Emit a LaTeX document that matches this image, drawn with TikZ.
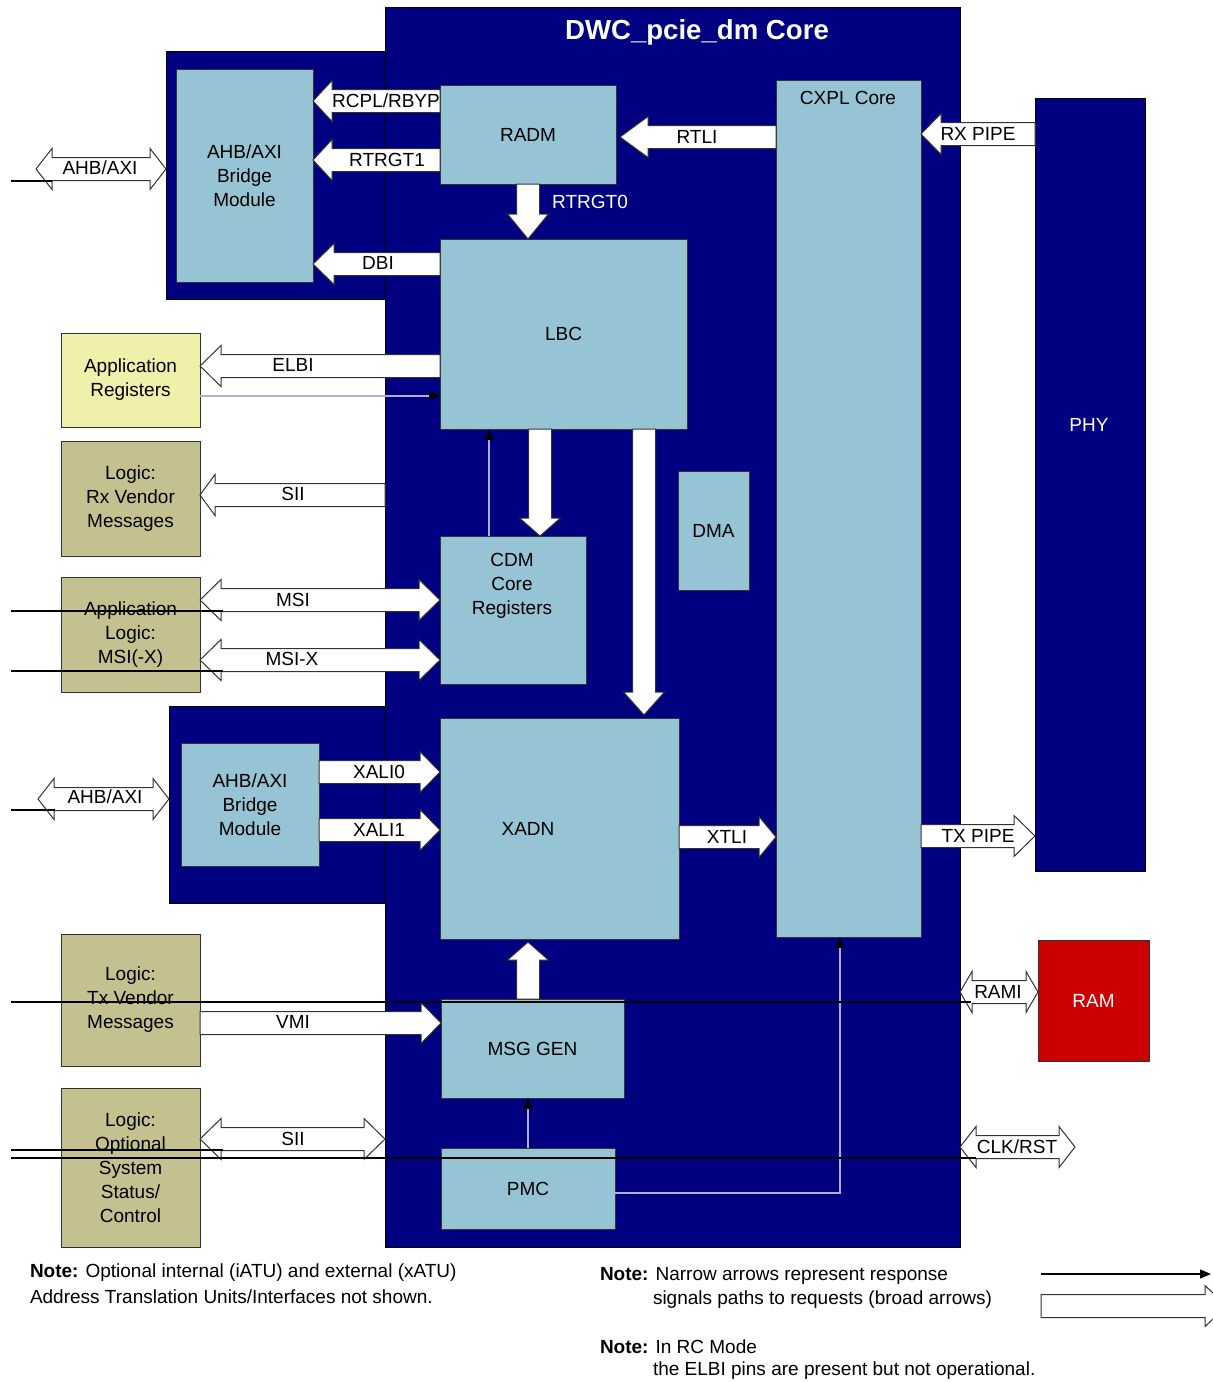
\documentclass[tikz,border=0pt]{standalone}
\usepackage{fontspec}
\setmainfont{Liberation Sans}
\usetikzlibrary{calc,arrows.meta}
\definecolor{navyc}{RGB}{0,0,128}
\definecolor{boxblue}{RGB}{150,196,212}
\definecolor{khakic}{RGB}{196,192,144}
\definecolor{paley}{RGB}{240,240,170}
\definecolor{ramred}{RGB}{204,0,0}
\definecolor{thinc}{RGB}{175,175,215}
% box node from pixel rectangle
\newcommand\bxnode[7]{\node[#1, minimum width={(#5-#3)*0.5pt}, minimum height={(#6-#4)*0.5pt}] (#2) at ({(#3+#5)/2},{(#4+#6)/2}) {#7};}
% broad arrows: [head length]{tail}{tip}
\newcommand\BArR[3][20]{\draw[broad] ($(#2)+(0,-11.5)$) -- ($(#3)+(-#1,-11.5)$) -- ($(#3)+(-#1,-20.5)$) -- (#3) -- ($(#3)+(-#1,20.5)$) -- ($(#3)+(-#1,11.5)$) -- ($(#2)+(0,11.5)$) -- cycle;}
\newcommand\BArL[3][20]{\draw[broad] ($(#2)+(0,-11.5)$) -- ($(#3)+(#1,-11.5)$) -- ($(#3)+(#1,-20.5)$) -- (#3) -- ($(#3)+(#1,20.5)$) -- ($(#3)+(#1,11.5)$) -- ($(#2)+(0,11.5)$) -- cycle;}
\newcommand\BArD[3][20]{\draw[broad] ($(#2)+(-11.5,0)$) -- ($(#3)+(-11.5,-#1)$) -- ($(#3)+(-20.5,-#1)$) -- (#3) -- ($(#3)+(20.5,-#1)$) -- ($(#3)+(11.5,-#1)$) -- ($(#2)+(11.5,0)$) -- cycle;}
\newcommand\BArU[3][20]{\draw[broad] ($(#2)+(-11.5,0)$) -- ($(#3)+(-11.5,#1)$) -- ($(#3)+(-20.5,#1)$) -- (#3) -- ($(#3)+(20.5,#1)$) -- ($(#3)+(11.5,#1)$) -- ($(#2)+(11.5,0)$) -- cycle;}
\newcommand\BArLR[3][20]{\draw[broad] ($(#2)+(#1,-11.5)$) -- ($(#3)+(-#1,-11.5)$) -- ($(#3)+(-#1,-20.5)$) -- (#3) -- ($(#3)+(-#1,20.5)$) -- ($(#3)+(-#1,11.5)$) -- ($(#2)+(#1,11.5)$) -- ($(#2)+(#1,20.5)$) -- (#2) -- ($(#2)+(#1,-20.5)$) -- cycle;}
\begin{document}
\begin{tikzpicture}[x=0.5pt,y=-0.5pt,
  every node/.style={font=\fontsize{9.5}{12}\selectfont, inner sep=0pt, outer sep=0pt, align=center},
  bg/.style={draw=black, line width=0.5pt, fill=navyc},
  box/.style={draw=black!80, line width=0.5pt, fill=boxblue},
  ext/.style={box, fill=khakic},
  broad/.style={draw=black!80, line width=0.5pt, fill=white, line join=miter},
  tipc/.tip={Triangle[length=5.5pt,width=4.5pt,color=black,fill=black]},
  thinarrow/.style={draw=thinc, line width=0.6pt, -tipc},
  stub/.style={draw=black, line width=0.8pt},
  wtext/.style={text=white}]
\useasboundingbox (0,0) rectangle (1213,1382);
% ---- backgrounds
\bxnode{bg}{bridgeAbg}{166}{51}{385}{299}{}
\bxnode{bg}{bridgeBbg}{169}{706}{385}{903}{}
\bxnode{bg}{core}{385}{7}{960}{1247}{}
\node[font=\fontsize{13.8}{16}\selectfont\bfseries, wtext] (title) at (697,32) {DWC\_pcie\_dm Core};
\bxnode{bg}{phy}{1035}{98}{1145}{871}{}
\node[wtext] (phyt) at (1089,425) {PHY};
% ---- blocks
\bxnode{box}{bridgeA}{176}{69}{313}{282}{AHB/AXI\\Bridge\\Module}
\bxnode{box}{bridgeB}{181}{743}{319}{866}{AHB/AXI\\Bridge\\Module}
\bxnode{box}{radm}{440}{85}{616}{184}{RADM}
\bxnode{box}{lbc}{440}{239}{687}{429}{LBC}
\bxnode{box}{cdm}{440}{536}{586}{684}{}
\node (cdmt) at (512,586) {CDM\\Core\\Registers};
\bxnode{box}{dma}{678}{471}{749}{590}{DMA}
\bxnode{box}{xadn}{440}{718}{679}{939}{}
\node (xadnt) at (528,829) {XADN};
\bxnode{box}{cxpl}{776}{80}{921}{937}{}
\node (cxplt) at (848,98) {CXPL Core};
\bxnode{box}{msggen}{441}{999}{624}{1098}{MSG GEN}
\bxnode{box}{pmc}{441}{1148}{615}{1229}{PMC}
\bxnode{box,fill=ramred,text=white}{ram}{1038}{940}{1149}{1061}{RAM}
\bxnode{box,fill=paley}{appreg}{61}{333}{200}{427}{Application\\Registers}
\bxnode{ext}{rxv}{61}{441}{200}{556}{Logic:\\Rx Vendor\\Messages}
\bxnode{ext}{msib}{61}{577}{200}{692}{Application\\Logic:\\MSI(-X)}
\bxnode{ext}{txv}{61}{934}{200}{1066}{Logic:\\Tx Vendor\\Messages}
\bxnode{ext}{optc}{61}{1088}{200}{1247}{Logic:\\Optional\\System\\Status/\\Control}
% ---- broad arrow end points
\coordinate (rcplS) at (radm.west |- 0,101);   \coordinate (rcplE) at (bridgeA.east |- 0,101);
\coordinate (rt1S) at (radm.west |- 0,160);    \coordinate (rt1E) at (bridgeA.east |- 0,160);
\coordinate (dbiS) at (lbc.west |- 0,264);     \coordinate (dbiE) at (bridgeA.east |- 0,264);
\coordinate (rtliS) at (cxpl.west |- 0,137);   \coordinate (rtliE) at ($(radm.east |- 0,137)+(4,0)$);
\coordinate (rt0S) at (radm.south -| 528,0);   \coordinate (rt0E) at (lbc.north -| 528,0);
\coordinate (elbiS) at (lbc.west |- 0,366);    \coordinate (elbiE) at (appreg.east |- 0,366);
\coordinate (siiaS) at (core.west |- 0,495);   \coordinate (siiaE) at (rxv.east |- 0,495);
\coordinate (msiL) at (msib.east |- 0,600);    \coordinate (msiR) at (cdm.west |- 0,600);
\coordinate (msixL) at (msib.east |- 0,660);   \coordinate (msixR) at (cdm.west |- 0,660);
\coordinate (x0S) at (bridgeB.east |- 0,772);  \coordinate (x0E) at (xadn.west |- 0,772);
\coordinate (x1S) at (bridgeB.east |- 0,830);  \coordinate (x1E) at (xadn.west |- 0,830);
\coordinate (xtS) at (xadn.east |- 0,837);     \coordinate (xtE) at (cxpl.west |- 0,837);
\coordinate (rxS) at (phy.west |- 0,134);      \coordinate (rxE) at (cxpl.east |- 0,134);
\coordinate (txS) at (cxpl.east |- 0,836);     \coordinate (txE) at (phy.west |- 0,836);
\coordinate (ramiL) at (core.east |- 0,992);   \coordinate (ramiR) at (ram.west |- 0,992);
\coordinate (clkL) at (core.east |- 0,1147);   \coordinate (clkR) at (1075,1147);
\coordinate (ahbaL) at (36,169);               \coordinate (ahbaR) at (bridgeAbg.west |- 0,169);
\coordinate (ahbbL) at (38,799);               \coordinate (ahbbR) at (bridgeBbg.west |- 0,799);
\coordinate (vmiS) at (txv.east |- 0,1023);    \coordinate (vmiE) at (msggen.west |- 0,1023);
\coordinate (siibL) at (optc.east |- 0,1139);  \coordinate (siibR) at (core.west |- 0,1139);
\coordinate (mgS) at (msggen.north -| 528,0);  \coordinate (mgE) at ($(xadn.south -| 528,0)+(0,3)$);
\coordinate (lcS) at (lbc.south -| 540,0);     \coordinate (lcE) at (cdm.north -| 540,0);
\coordinate (lxS) at (lbc.south -| 644,0);     \coordinate (lxE) at ($(xadn.north -| 644,0)+(0,-3)$);
% ---- broad arrows
\BArL[19]{rcplS}{rcplE}
\BArL[19]{rt1S}{rt1E}
\BArL[21]{dbiS}{dbiE}
\BArL[28]{rtliS}{rtliE}
\BArD[25]{rt0S}{rt0E}
\BArL[21]{elbiS}{elbiE}
\BArL[15]{siiaS}{siiaE}
\BArLR[21]{msiL}{msiR}
\BArLR[21]{msixL}{msixR}
\BArR[20]{x0S}{x0E}
\BArR[20]{x1S}{x1E}
\BArR[17]{xtS}{xtE}
\BArL[20]{rxS}{rxE}
\BArR[21]{txS}{txE}
\BArLR[12]{ramiL}{ramiR}
\BArLR[16]{clkL}{clkR}
\BArLR[16]{ahbaL}{ahbaR}
\BArLR[16]{ahbbL}{ahbbR}
\BArR[20]{vmiS}{vmiE}
\BArLR[21]{siibL}{siibR}
\BArU[18]{mgS}{mgE}
\BArD[18]{lcS}{lcE}
\BArD[23]{lxS}{lxE}
% ---- arrow labels
\node (lrcpl) at (386,101) {RCPL/RBYP};
\node (lrt1) at (387,160) {RTRGT1};
\node (ldbi) at (378,263) {DBI};
\node (lrtli) at (697,137) {RTLI};
\node[wtext] (lrt0) at (590,202) {RTRGT0};
\node (lelbi) at (293,365) {ELBI};
\node (lsiia) at (293,494) {SII};
\node (lmsi) at (293,600) {MSI};
\node (lmsix) at (292,659) {MSI-X};
\node (lx0) at (379,772) {XALI0};
\node (lx1) at (379,830) {XALI1};
\node (lxt) at (727,837) {XTLI};
\node (lrx) at (978,134) {RX PIPE};
\node (ltx) at (978,836) {TX PIPE};
\node (lrami) at (998,992) {RAMI};
\node (lclk) at (1017,1147) {CLK/RST};
\node (lahba) at (100,168) {AHB/AXI};
\node (lahbb) at (105,797) {AHB/AXI};
\node (lvmi) at (293,1022) {VMI};
\node (lsiib) at (293,1139) {SII};
% ---- narrow (response) arrows
\draw[thinarrow] (appreg.east |- 0,396) -- (lbc.west |- 0,396);
\draw[thinarrow] (cdm.north -| 489,0) -- (lbc.south -| 489,0);
\draw[thinarrow] (pmc.north -| 528,0) -- (msggen.south -| 528,0);
\draw[thinarrow] (pmc.east |- 0,1193) -| (cxpl.south -| 840,0);
% ---- stray black lines
\coordinate (sa) at (11,181);  \draw[stub] (sa) -- (52,181);
\coordinate (sb) at (11,611);  \draw[stub] (sb) -- (223,611);
\coordinate (sc) at (11,671);  \draw[stub] (sc) -- (223,671);
\coordinate (sd) at (11,810);  \draw[stub] (sd) -- (55,810);
\coordinate (se) at (11,1002); \draw[stub] (se) -- (971,1002);
\coordinate (sf) at (11,1150); \draw[stub] (sf) -- (223,1150);
\coordinate (sg) at (11,1158); \draw[stub] (sg) -- (976,1158);
% ---- notes
\node[anchor=west] (n1a) at (30,1273) {\textbf{Note:} Optional internal (iATU) and external (xATU)};
\node[anchor=west] (n1b) at (30,1297) {Address Translation Units/Interfaces not shown.};
\node[anchor=west] (n2a) at (600,1276) {\textbf{Note:} Narrow arrows represent response};
\node[anchor=west] (n2b) at (653,1300) {signals paths to requests (broad arrows)};
\node[anchor=west] (n3a) at (600,1347) {\textbf{Note:} In RC Mode};
\node[anchor=west] (n3b) at (653,1371) {the ELBI pins are present but not operational.};
% ---- legend
\coordinate (legNs) at (1041,1274); \coordinate (legNe) at (1211,1274);
\draw[line width=0.6pt, -tipc] (legNs) -- (legNe);
\coordinate (legBs) at (1041,1306); \coordinate (legBe) at (1227,1306);
\BArR[22]{legBs}{legBe}
\end{tikzpicture}
\end{document}
